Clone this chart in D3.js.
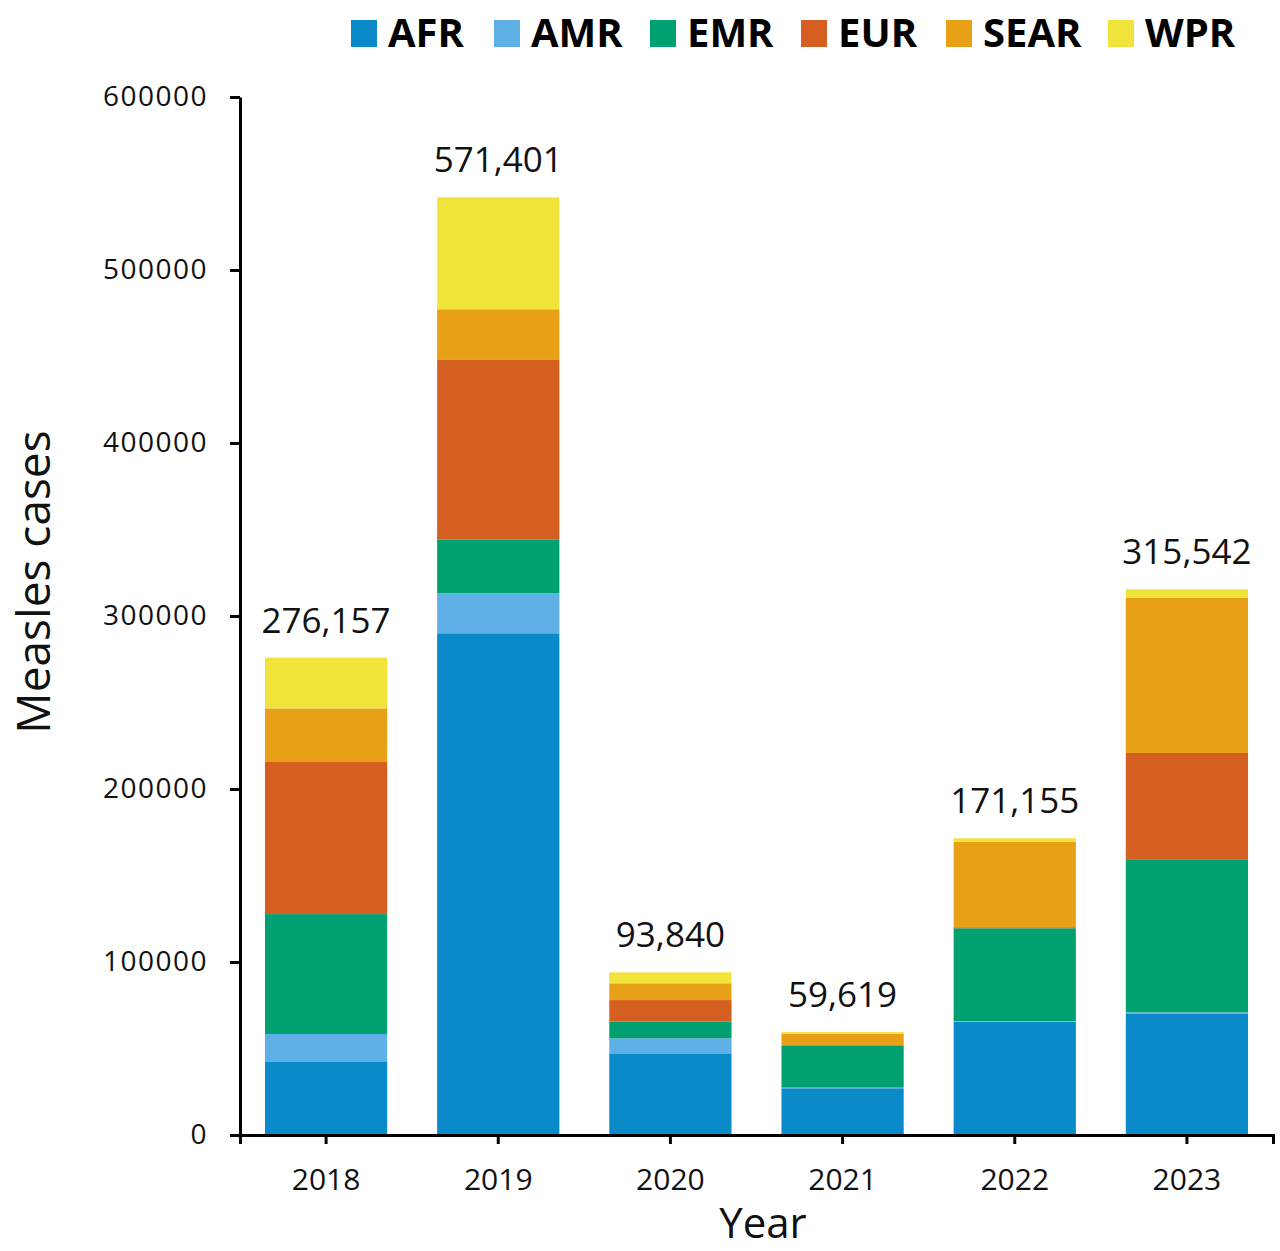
<!DOCTYPE html>
<html>
<head>
<meta charset="utf-8">
<script src="https://cdn.jsdelivr.net/npm/d3@7"></script>
<style>
    body { margin: 0; background: #fff; }
    svg { display: block; font-family: "Open Sans", "Lato", sans-serif; }
</style>
</head>
<body>
<div id="chart-container"></div>
<script>
// Data (cases per WHO region)
const years = ["2018", "2019", "2020", "2021", "2022", "2023"];
const regions = ["AFR", "AMR", "EMR", "EUR", "SEAR", "WPR"];
const afr = [42200, 290000, 47200, 27000, 65500, 70300];
const amr = [16200, 23100, 8700, 400, 400, 600];
const emr = [69300, 31200, 9600, 24200, 53600, 88500];
const eur = [87900, 103700, 12500, 400, 600, 61400];
const sear = [31000, 29300, 9700, 6600, 49400, 89800];
const wpr = [29300, 64700, 6300, 900, 2000, 4800];
const totals = [276157, 571401, 93840, 59619, 171155, 315542];
const yTicks = [0, 100000, 200000, 300000, 400000, 500000, 600000];
const colors = ["#0a8ac8", "#5fb0e6", "#00a071", "#d45f20", "#e8a117", "#f0e33a"];

const width = 1280, height = 1251;
const plotLeft = 240, plotRight = 1273, plotTop = 97, plotBottom = 1135;

// Build table rows for d3.stack
const rows = years.map((y, i) => ({
    year: y,
    AFR: afr[i], AMR: amr[i], EMR: emr[i], EUR: eur[i], SEAR: sear[i], WPR: wpr[i],
    total: totals[i]
}));

const svg = d3.select("#chart-container")
    .append("svg")
    .attr("width", width)
    .attr("height", height);

const x = d3.scaleBand()
    .domain(years)
    .range([plotLeft, plotRight])
    .paddingInner(0.29)
    .paddingOuter(0.145);

const y = d3.scaleLinear()
    .domain([0, 600000])
    .range([plotBottom, plotTop]);

const color = d3.scaleOrdinal().domain(regions).range(colors);

const stacked = d3.stack().keys(regions)(rows);

// Bars
svg.append("g")
    .selectAll("g")
    .data(stacked)
    .join("g")
    .attr("fill", d => color(d.key))
    .selectAll("rect")
    .data(d => d)
    .join("rect")
    .attr("x", d => x(d.data.year))
    .attr("width", x.bandwidth())
    .attr("y", d => y(d[1]))
    .attr("height", d => y(d[0]) - y(d[1]));

// Total labels above each bar
const topLayer = stacked[stacked.length - 1];
svg.append("g")
    .selectAll("text")
    .data(topLayer)
    .join("text")
    .attr("x", d => x(d.data.year) + x.bandwidth() / 2)
    .attr("y", d => y(d[1]) - 25)
    .attr("text-anchor", "middle")
    .style("font-size", "35px")
    .style("fill", "#111")
    .text(d => d3.format(",")(d.data.total));

// X axis
const xAxis = svg.append("g")
    .attr("transform", `translate(0,${plotBottom})`)
    .call(d3.axisBottom(x).tickSize(9).tickSizeOuter(9).tickPadding(25));
xAxis.select(".domain").attr("stroke", "#000").attr("stroke-width", 3);
xAxis.selectAll(".tick line").attr("stroke", "#000").attr("stroke-width", 3);
xAxis.selectAll("text")
    .style("font-size", "30px")
    .style("font-family", "'Open Sans', sans-serif")
    .attr("fill", "#111");

// Y axis
const yAxis = svg.append("g")
    .attr("transform", `translate(${plotLeft},0)`)
    .call(d3.axisLeft(y).tickValues(yTicks).tickFormat(d3.format("d"))
        .tickSize(10).tickSizeOuter(0).tickPadding(22));
yAxis.select(".domain").attr("stroke", "#000").attr("stroke-width", 3);
yAxis.selectAll(".tick line").attr("stroke", "#000").attr("stroke-width", 3);
yAxis.selectAll("text")
    .style("font-size", "28px")
    .style("letter-spacing", "1.5px")
    .style("font-family", "'Open Sans', sans-serif")
    .attr("fill", "#111");

// Axis titles
svg.append("text")
    .attr("transform", "rotate(-90)")
    .attr("x", -582)
    .attr("y", 50)
    .attr("text-anchor", "middle")
    .style("font-size", "46px")
    .style("fill", "#111")
    .text("Measles cases");

svg.append("text")
    .attr("x", 763)
    .attr("y", 1238)
    .attr("text-anchor", "middle")
    .style("font-size", "42px")
    .style("fill", "#111")
    .text("Year");

// Legend
const legendX = [351, 494, 650, 801, 946, 1108];
const legend = svg.append("g")
    .selectAll("g")
    .data(regions)
    .join("g")
    .attr("transform", (d, i) => `translate(${legendX[i]},20)`);

legend.append("rect")
    .attr("width", 26)
    .attr("height", 27)
    .attr("fill", d => color(d));

legend.append("text")
    .attr("x", 37)
    .attr("y", 27)
    .style("font-size", "40px")
    .style("font-weight", "bold")
    .style("fill", "#000")
    .text(d => d);
</script>
</body>
</html>
